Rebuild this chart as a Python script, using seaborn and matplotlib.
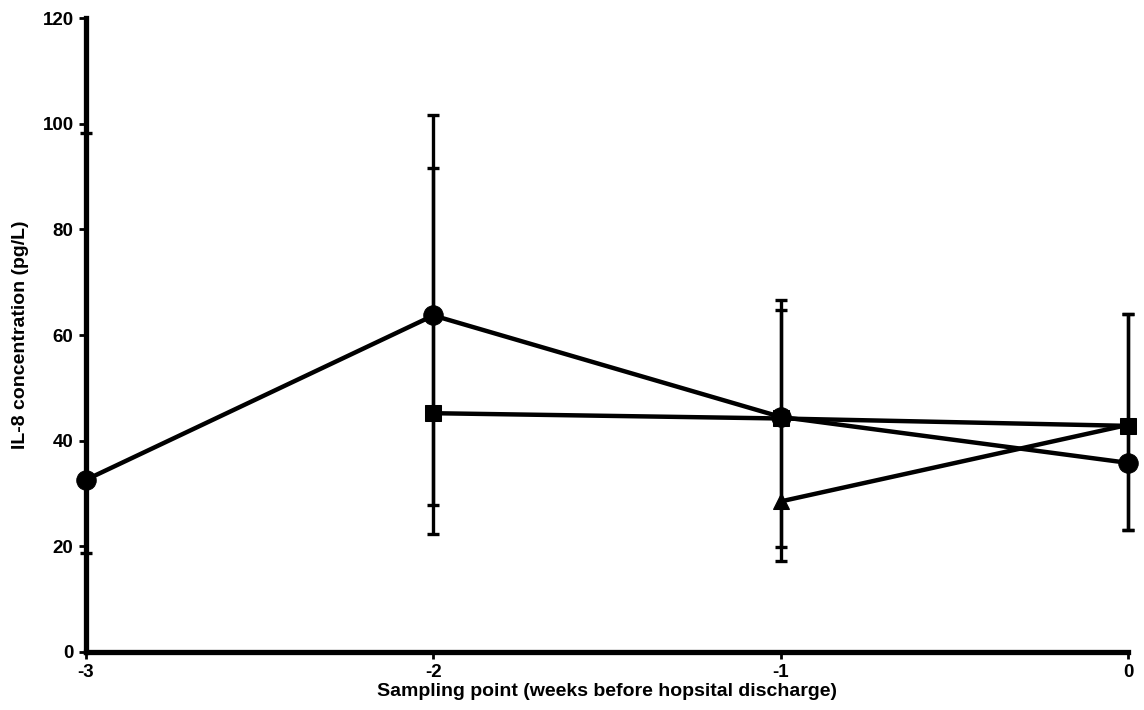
import matplotlib
matplotlib.use("Agg")
import matplotlib.pyplot as plt
import seaborn as sns
import pandas as pd

# Data
weeks = [-3, -2, -1, 0]
circle_x = [-3, -2, -1, 0]
circle_y = [32.6, 63.7, 44.5, 35.8]
circle_lo = [18.7, 22.3, 17.2, 23.0]
circle_hi = [98.2, 101.6, 66.6, 64.0]

square_x = [-2, -1, 0]
square_y = [45.2, 44.2, 42.8]
square_lo = [27.8, 19.9, 23.0]
square_hi = [91.6, 64.8, 64.0]

triangle_x = [-1, 0]
triangle_y = [28.5, 43.0]

y_ticks = [0, 20, 40, 60, 80, 100, 120]
x_tick_labels = ["-3", "-2", "-1", "0"]

sns.set_style("ticks")
plt.rcParams['font.family'] = ['Liberation Sans', 'DejaVu Sans']
plt.rcParams['text.color'] = 'black'
plt.rcParams['axes.labelcolor'] = 'black'
plt.rcParams['xtick.color'] = 'black'
plt.rcParams['ytick.color'] = 'black'

fig = plt.figure(figsize=(11.44, 7.10), dpi=100)
ax = fig.add_axes([0.0752, 0.0817, 0.9108, 0.8929])

df_c = pd.DataFrame({"x": circle_x, "y": circle_y})
df_s = pd.DataFrame({"x": square_x, "y": square_y})
df_t = pd.DataFrame({"x": triangle_x, "y": triangle_y})

# error bars
def draw_err(xs, ys, lo, hi):
    yerr = [[y - l for y, l in zip(ys, lo)], [h - y for y, h in zip(ys, hi)]]
    ax.errorbar(xs, ys, yerr=yerr, fmt="none", ecolor="black",
                elinewidth=2.4, capsize=4, capthick=2.4, zorder=2, clip_on=False)

draw_err(circle_x, circle_y, circle_lo, circle_hi)
draw_err(square_x, square_y, square_lo, square_hi)

sns.lineplot(data=df_c, x="x", y="y", ax=ax, color="black", linewidth=3.2,
             marker="o", markersize=14, markeredgecolor="black", zorder=3, clip_on=False)
sns.lineplot(data=df_s, x="x", y="y", ax=ax, color="black", linewidth=3.2,
             marker="s", markersize=12, markeredgecolor="black", zorder=3, clip_on=False)
sns.lineplot(data=df_t, x="x", y="y", ax=ax, color="black", linewidth=3.2,
             marker="^", markersize=12, markeredgecolor="black", zorder=3, clip_on=False)

ax.set_xlim(-3, 0)
ax.set_ylim(0, 120)
ax.set_yticks(y_ticks)
ax.set_yticklabels([str(v) for v in y_ticks], fontsize=13.5, fontweight="bold")
ax.set_xticks(weeks)
ax.set_xticklabels(x_tick_labels, fontsize=13.5, fontweight="bold")

for s in ["top", "right"]:
    ax.spines[s].set_visible(False)
for s in ["left", "bottom"]:
    ax.spines[s].set_linewidth(3.8)
    ax.spines[s].set_color("black")
ax.tick_params(axis="both", width=2, length=5, color="black", labelcolor="black", pad=4)

ax.set_ylabel("IL-8 concentration (pg/L)", fontsize=14, fontweight="bold", labelpad=10)
ax.set_xlabel("Sampling point (weeks before hopsital discharge)", fontsize=14,
              fontweight="bold", labelpad=1)

fig.savefig("out.png", dpi=100, facecolor="white")
